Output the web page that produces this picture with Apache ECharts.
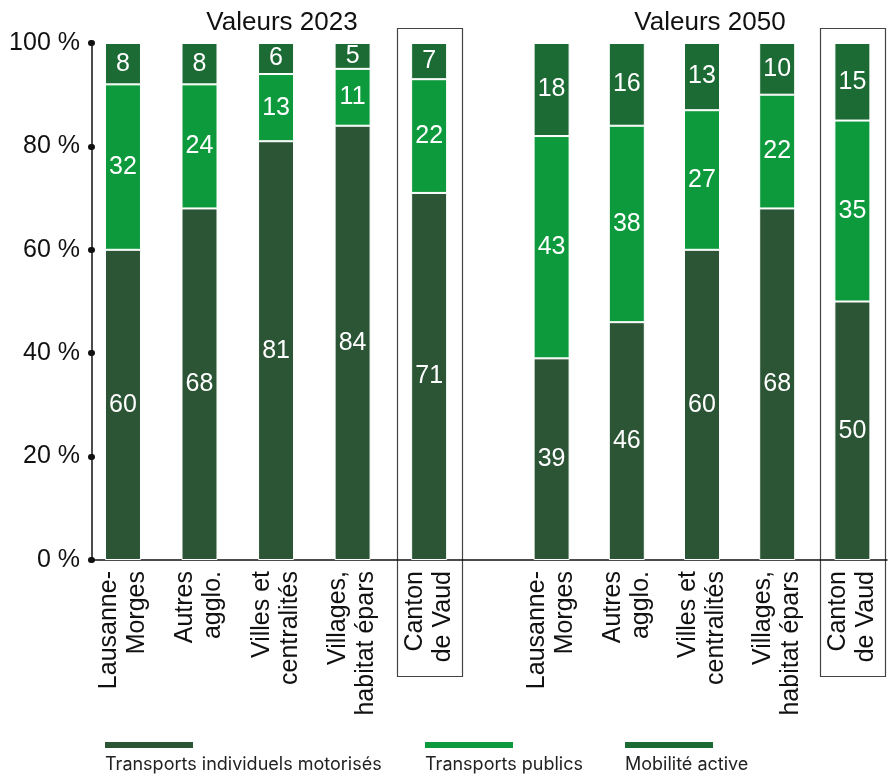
<!DOCTYPE html>
<html>
<head>
<meta charset="utf-8">
<script src="https://cdn.jsdelivr.net/npm/echarts@6/dist/echarts.min.js"></script>
<style>
  html, body { margin: 0; padding: 0; background: #fff; }
  #c { width: 890px; height: 776px; }
</style>
</head>
<body>
<div id="c"></div>
<script>
// Parts modales (%) par type de territoire, 2023 et 2050
const categories = ['Lausanne-\nMorges', 'Autres\nagglo.', 'Villes et\ncentralités', 'Villages,\nhabitat épars', 'Canton\nde Vaud'];
const seriesNames = ['Transports individuels motorisés', 'Transports publics', 'Mobilité active'];
const seriesColors = ['#2c5536', '#0d9a3c', '#1d6b34'];

const tim2023 = [60, 68, 81, 84, 71];
const tp2023  = [32, 24, 13, 11, 22];
const ma2023  = [8, 8, 6, 5, 7];

const tim2050 = [39, 46, 60, 68, 50];
const tp2050  = [43, 38, 27, 22, 35];
const ma2050  = [18, 16, 13, 10, 15];

const panelTitles = ['Valeurs 2023', 'Valeurs 2050'];
const yTicks = [0, 20, 40, 60, 80, 100];

const FONT = 'Liberation Sans';
const INK = '#111';

const chart = echarts.init(document.getElementById('c'), null, { renderer: 'canvas' });

function barSeries(name, data, color, axisIndex, stack) {
  return {
    name: name,
    type: 'bar',
    xAxisIndex: axisIndex,
    yAxisIndex: axisIndex,
    stack: stack,
    data: data,
    barWidth: 36,
    itemStyle: { color: color, borderColor: '#ffffff', borderWidth: 1 },
    label: {
      show: true, position: 'inside', color: '#ffffff',
      fontFamily: FONT, fontSize: 25
    },
    emphasis: { disabled: true }
  };
}

const catAxis = (gridIndex) => ({
  gridIndex: gridIndex,
  type: 'category',
  data: categories,
  axisLine: { show: false },
  axisTick: { show: false },
  axisLabel: {
    rotate: 90, margin: 11, color: INK, interval: 0,
    fontFamily: FONT, fontSize: 25, lineHeight: 28
  }
});

const hiddenY = (gridIndex) => ({
  gridIndex: gridIndex, type: 'value', min: yTicks[0], max: yTicks[yTicks.length - 1], show: false
});

const option = {
  animation: false,
  backgroundColor: '#ffffff',
  title: [
    { text: panelTitles[0], left: 277, top: 5, textAlign: 'center',
      textStyle: { fontFamily: FONT, fontSize: 26, fontWeight: 'normal', color: INK } },
    { text: panelTitles[1], left: 705, top: 5, textAlign: 'center',
      textStyle: { fontFamily: FONT, fontSize: 26, fontWeight: 'normal', color: INK } }
  ],
  grid: [
    { left: 92, top: 43, width: 795, height: 517 },
    { left: 84.7, top: 43, width: 382.7, height: 517 },
    { left: 514, top: 43, width: 382, height: 517 }
  ],
  xAxis: [
    { gridIndex: 0, type: 'value', min: 0, max: 1,
      axisLine: { show: true, onZero: false, lineStyle: { color: INK, width: 1.5 } },
      axisTick: { show: false }, axisLabel: { show: false }, splitLine: { show: false } },
    catAxis(1),
    catAxis(2)
  ],
  yAxis: [
    { gridIndex: 0, type: 'value', min: yTicks[0], max: yTicks[yTicks.length - 1], interval: yTicks[1] - yTicks[0],
      axisLine: { show: true, lineStyle: { color: INK, width: 1.5 } },
      axisTick: { show: true, length: 1, lineStyle: { color: INK, width: 6, cap: 'round' } },
      axisLabel: { formatter: '{value} %', color: INK, fontFamily: FONT, fontSize: 25, margin: 12 },
      splitLine: { show: false } },
    hiddenY(1),
    hiddenY(2)
  ],
  series: [
    barSeries(seriesNames[0], tim2023, seriesColors[0], 1, 'y2023'),
    barSeries(seriesNames[1], tp2023, seriesColors[1], 1, 'y2023'),
    barSeries(seriesNames[2], ma2023, seriesColors[2], 1, 'y2023'),
    barSeries(seriesNames[0], tim2050, seriesColors[0], 2, 'y2050'),
    barSeries(seriesNames[1], tp2050, seriesColors[1], 2, 'y2050'),
    barSeries(seriesNames[2], ma2050, seriesColors[2], 2, 'y2050')
  ]
};

chart.setOption(option);

// Cadre autour de la colonne « Canton de Vaud » de chaque panneau, et légende sous le graphique
const graphics = [];
const cantonIndex = categories.length - 1;
[1, 2].forEach(function (axisIndex) {
  const cx = chart.convertToPixel({ xAxisIndex: axisIndex }, cantonIndex);
  graphics.push({
    type: 'rect', silent: true, z: 0,
    shape: { x: Math.round(cx - 32.5) + 0.5, y: 28.5, width: 65, height: 648 },
    style: { fill: 'none', stroke: '#444', lineWidth: 1.2 }
  });
});

const legendX = [105, 425, 625];
seriesNames.forEach(function (name, i) {
  graphics.push({
    type: 'rect', silent: true,
    shape: { x: legendX[i], y: 742, width: 88, height: 6 },
    style: { fill: seriesColors[i] }
  });
  graphics.push({
    type: 'text', silent: true,
    x: legendX[i], y: 756,
    style: { text: name, fill: '#222', font: '18px Inter', textVerticalAlign: 'top' }
  });
});

chart.setOption({ graphic: graphics });
</script>
</body>
</html>
